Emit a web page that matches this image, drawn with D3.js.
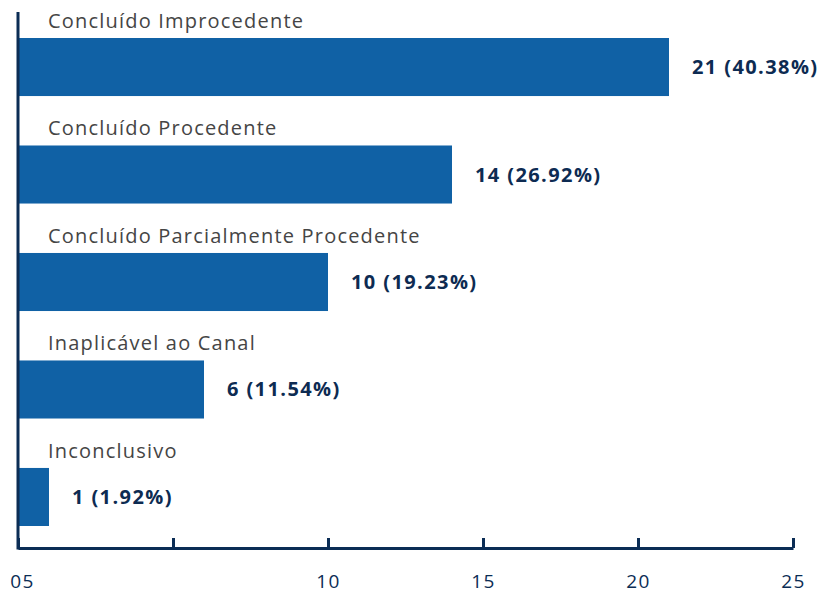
<!DOCTYPE html>
<html>
<head>
<meta charset="utf-8">
<script src="https://cdn.jsdelivr.net/npm/d3@7"></script>
<style>
  html, body { margin: 0; padding: 0; background: #ffffff; }
  svg { display: block; }
</style>
</head>
<body>
<svg id="chart" width="820" height="593"></svg>
<script>
const categories = [
  "Concluído Improcedente",
  "Concluído Procedente",
  "Concluído Parcialmente Procedente",
  "Inaplicável ao Canal",
  "Inconclusivo"
];
const counts = [21, 14, 10, 6, 1];
const percents = ["40.38%", "26.92%", "19.23%", "11.54%", "1.92%"];
const tickValues = [0, 5, 10, 15, 20, 25];
const tickLabels = ["05", "", "10", "15", "20", "25"];

const FONT = "'Open Sans', sans-serif";
const svg = d3.select("#chart");

const x = d3.scaleLinear().domain([0, 25]).range([18, 793]);
const y = d3.scaleBand().domain(categories).range([38, 526]).paddingInner(0.46);

const data = categories.map((c, i) => ({ cat: c, v: counts[i], p: percents[i] }));

// bars
svg.append("g").selectAll("rect").data(data).join("rect")
  .attr("x", x(0) + 1)
  .attr("y", d => y(d.cat))
  .attr("width", d => x(d.v) - x(0) - 1)
  .attr("height", y.bandwidth())
  .attr("fill", "#1061a5");

// category labels
svg.append("g").selectAll("text").data(data).join("text")
  .attr("x", 48)
  .attr("y", d => y(d.cat) - 10)
  .attr("font-family", FONT)
  .attr("font-size", 20)
  .attr("letter-spacing", 1.2)
  .attr("fill", "#454545")
  .text(d => d.cat);

// value labels
svg.append("g").selectAll("text").data(data).join("text")
  .attr("x", d => x(d.v) + 23)
  .attr("y", d => y(d.cat) + y.bandwidth() / 2)
  .attr("dy", "0.35em")
  .attr("font-family", FONT)
  .attr("font-size", 20)
  .attr("letter-spacing", 1.4)
  .attr("font-weight", "bold")
  .attr("fill", "#0d2b52")
  .text(d => `${d.v} (${d.p})`);

// x axis
const xAxis = d3.axisTop(x)
  .tickValues(tickValues)
  .tickSize(10)
  .tickSizeOuter(0)
  .tickFormat((d, i) => tickLabels[i]);

const gx = svg.append("g").attr("transform", "translate(0,548)").call(xAxis);
gx.select(".domain").attr("stroke", "#0b2d55").attr("stroke-width", 3);
gx.selectAll(".tick line").attr("stroke", "#0b2d55").attr("stroke-width", 3);
gx.selectAll(".tick text")
  .attr("y", 40)
  .attr("dy", 0)
  .attr("font-family", FONT)
  .attr("font-size", 19)
  .attr("letter-spacing", 1.5)
  .attr("fill", "#0b2d55");
gx.selectAll(".tick text").filter((d, i) => i === 0).attr("dx", 4);

// y axis line
svg.append("line")
  .attr("x1", x(0)).attr("x2", x(0))
  .attr("y1", 12).attr("y2", 549.5)
  .attr("stroke", "#0b2d55")
  .attr("stroke-width", 3);
</script>
</body>
</html>
